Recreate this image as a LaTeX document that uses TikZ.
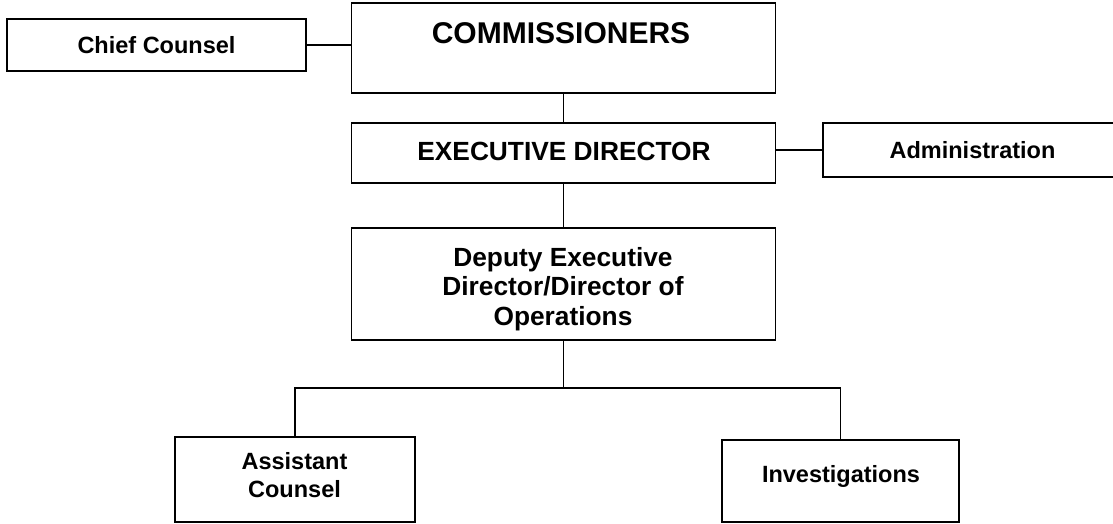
\documentclass[tikz,border=0pt]{standalone}
\usepackage{fontspec}
\setmainfont{Liberation Sans}
\begin{document}
\begin{tikzpicture}[x=1pt,y=-1pt,line width=1.8pt,
  box/.style={draw, rectangle, inner sep=0pt, align=center,
    font=\bfseries\fontsize{23.5}{27.5}\selectfont},
  lbl/.style={inner sep=0pt, align=center,
    font=\bfseries\fontsize{23.5}{27.5}\selectfont},
  biglbl/.style={inner sep=0pt, align=center,
    font=\bfseries\fontsize{26.3}{29.5}\selectfont},
  conn/.style={draw, line width=1.8pt}]
\useasboundingbox (0,0) rectangle (1113,523);
\clip (0,0) rectangle (1113,523);

% boxes
\node[box, minimum width=299pt, minimum height=52pt] (cc) at (156.5,45) {Chief Counsel};
\node[box, minimum width=424pt, minimum height=90pt] (comm) at (563.5,48) {};
\node[box, minimum width=424pt, minimum height=60pt] (ed) at (563.5,153) {};
\node[box, minimum width=299pt, minimum height=54pt] (adm) at (972.5,150) {Administration};
\node[box, minimum width=424pt, minimum height=112pt] (dep) at (563.5,284) {};
\node[box, minimum width=240pt, minimum height=85pt] (ac) at (295,479.5) {};
\node[box, minimum width=237pt, minimum height=82pt] (inv) at (840.5,481) {};

% texts
\node[inner sep=0pt, font=\bfseries\fontsize{30}{34}\selectfont] (commt) at (561,33) {COMMISSIONERS};
\node[biglbl] (edt) at (564,151) {EXECUTIVE DIRECTOR};
\node[biglbl] (dept) at (563,289) {Deputy Executive\\Director/Director of\\Operations};
\node[lbl] (act) at (294.5,475) {Assistant\\Counsel};
\node[lbl] (invt) at (841,476) {Investigations};

% connectors
\coordinate (bus) at (563.5,388);
\draw[conn] (cc.east) -- (comm.west |- cc.east);
\draw[conn] (comm.south) -- (ed.north);
\draw[conn] (adm.west -| ed.east) -- (adm.west);
\draw[conn] (ed.south) -- (dep.north);
\draw[conn] (dep.south) -- (dep.south |- bus);
\draw[conn] (ac.north) -- (ac.north |- bus) -- (inv.north |- bus) -- (inv.north);
\end{tikzpicture}
\end{document}
